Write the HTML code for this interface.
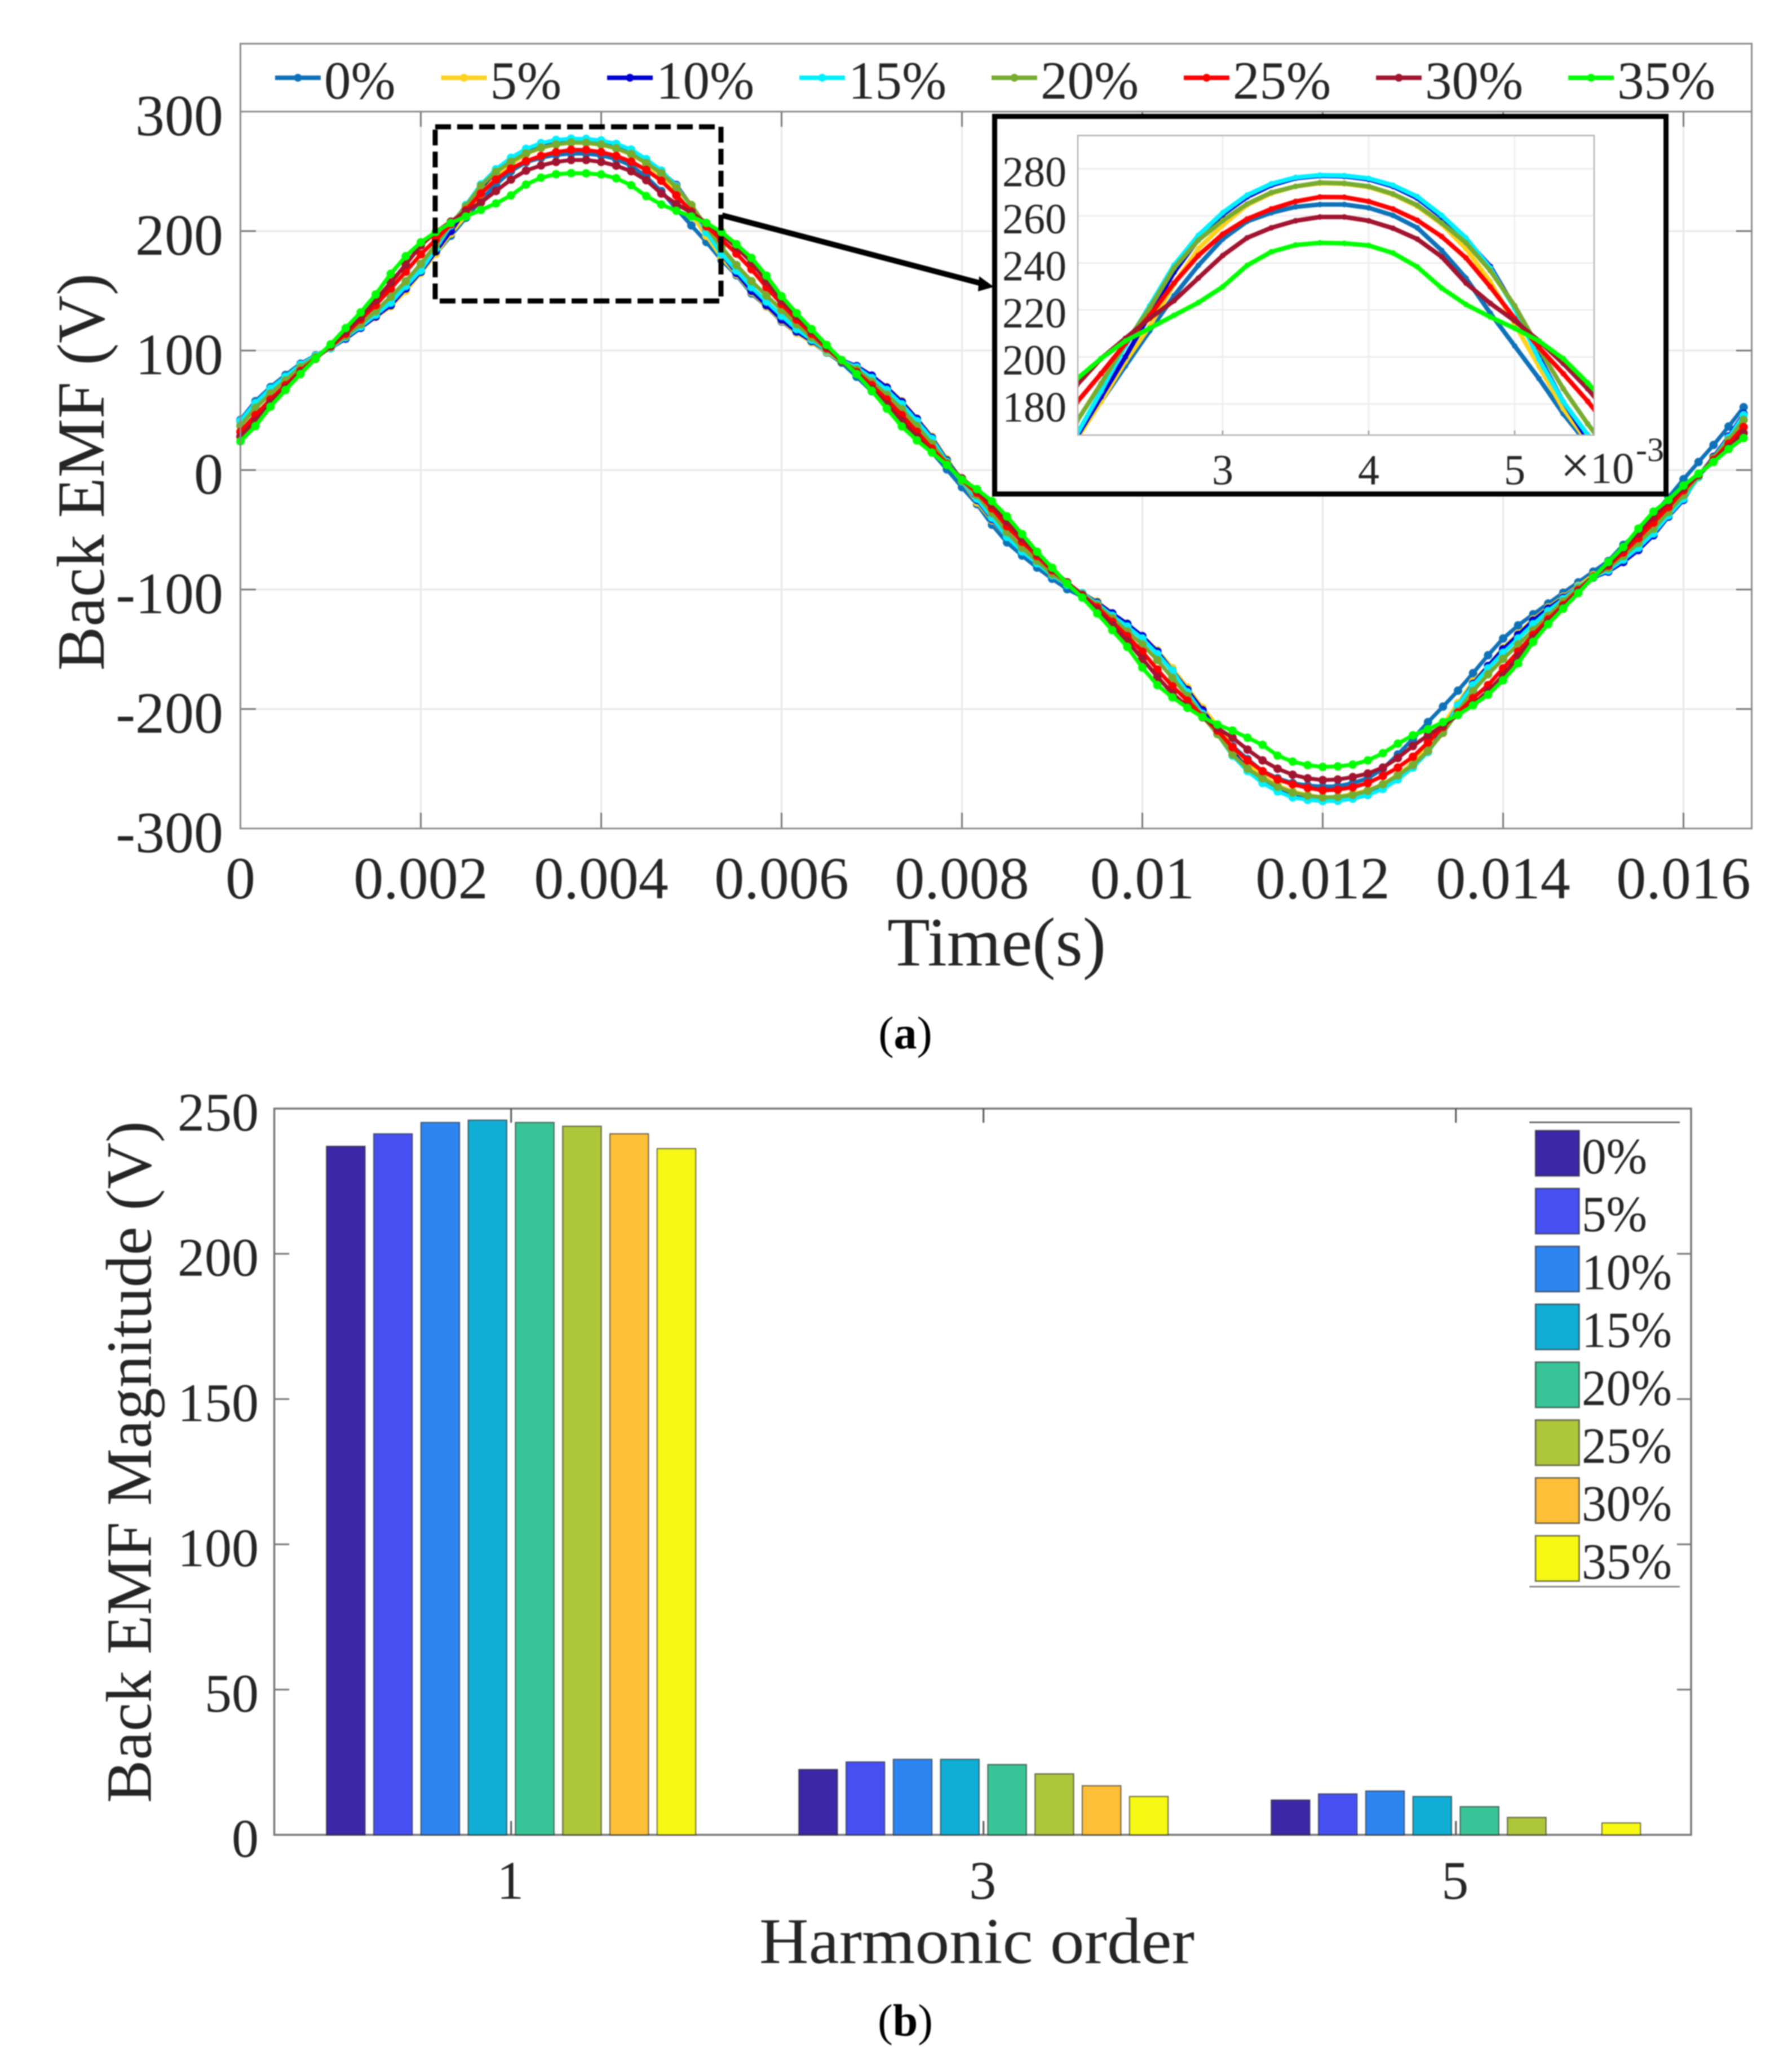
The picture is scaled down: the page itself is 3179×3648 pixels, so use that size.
<!DOCTYPE html>
<html lang="en">
<head>
<meta charset="utf-8">
<title>Back EMF waveforms and harmonics</title>
<style>
html,body{margin:0;padding:0;background:#fff;}
svg{display:block;filter:blur(1.1px);}
text{font-family:"Liberation Serif",serif;fill:#252525;}
</style>
</head>
<body>
<svg id="figure" xmlns="http://www.w3.org/2000/svg" width="3179" height="3648" viewBox="0 0 3179 3648">
  <defs>
    <clipPath id="inset-clip"><rect x="1912" y="240.5" width="916" height="531.5"/></clipPath>
  </defs>
  <rect x="0" y="0" width="3179" height="3648" fill="#ffffff"/>

  <g id="panel-a">
    <g id="a-grid"></g>
    <g id="a-series"></g>
    <g id="a-frame"></g>
    <g id="a-legend"></g>
    <g id="a-ticklabels"></g>
    <text transform="translate(184 837.5) rotate(-90)" text-anchor="middle" font-size="120" textLength="705" lengthAdjust="spacingAndGlyphs">Back EMF (V)</text>
    <text x="1768" y="1713" text-anchor="middle" font-size="123" textLength="388" lengthAdjust="spacingAndGlyphs">Time(s)</text>
    <rect x="772" y="225" width="507" height="309" fill="none" stroke="#000" stroke-width="9" stroke-dasharray="28 11"/>
    <line x1="1281" y1="382" x2="1745" y2="504" stroke="#000" stroke-width="10"/>
    <polygon points="1763,509 1737,490 1735,517" fill="#000"/>
    <g id="inset">
      <rect x="1764.5" y="206.5" width="1191" height="670" fill="#fff" stroke="#000" stroke-width="9"/>
      <g id="inset-grid"></g>
      <g id="inset-series" clip-path="url(#inset-clip)"></g>
      <g id="inset-frame"></g>
      <g id="inset-ticklabels"></g>
      <text x="2768" y="857" font-size="78"><tspan font-size="94">×</tspan>10</text>
      <text x="2902" y="818" font-size="60">-3</text>
    </g>
    <text x="1606" y="1860" text-anchor="middle" font-size="82" style="fill:#000">(<tspan font-weight="bold">a</tspan>)</text>
  </g>

  <g id="panel-b">
    <g id="b-frame"></g>
    <g id="b-bars"></g>
    <g id="b-ticklabels"></g>
    <g id="b-legend"></g>
    <text transform="translate(267.5 2594) rotate(-90)" text-anchor="middle" font-size="114" textLength="1210" lengthAdjust="spacingAndGlyphs">Back EMF Magnitude (V)</text>
    <text x="1733" y="3483" text-anchor="middle" font-size="115" textLength="772" lengthAdjust="spacingAndGlyphs">Harmonic order</text>
    <text x="1606" y="3612" text-anchor="middle" font-size="80" style="fill:#000">(<tspan font-weight="bold">b</tspan>)</text>
  </g>
</svg>

<script>
// ---------- Data: panel (a) ----------
const seriesLabels = ['0%', '5%', '10%', '15%', '20%', '25%', '30%', '35%'];
const sampleIntervalSeconds = 1 / 6000;
const xTickLabels = ['0', '0.002', '0.004', '0.006', '0.008', '0.01', '0.012', '0.014', '0.016'];
const yTickLabels = ['300', '200', '100', '0', '-100', '-200', '-300'];
const insetXTickLabels = ['3', '4', '5'];
const insetYTickLabels = ['280', '260', '240', '220', '200', '180'];

const emf0 = [42,57.7,69.4,79.6,89,96,102,111,120,129,139,
152,166,181,196.1,211.1,226,238.9,250.1,257.6,261.3,
263.8,264.8,264.8,263.4,260.2,254.9,245.3,233.5,218.6,204.7,
190.8,175.8,163,147.8,136.8,124.3,114.9,107,98.4,89.8,
78,66,56,43,29,15,0.5,-14.4,-28.6,-45.8,
-60.6,-71.6,-81.7,-91,-99.7,-106,-111.4,-120,-128.6,-139.5,
-151,-166,-183,-201,-217,-231,-242,-252,-258,-262,
-264,-265,-264.6,-262,-258,-250,-238,-225,-211,-198,
-184.6,-170,-155,-141,-130,-120.7,-111.7,-102.7,-94,-85,
-76.2,-62.7,-52,-37.5,-23,-7.7,6.7,21,36.4,52.6];

const emf5 = [40,55,67,77,87,95,102,110,119,128,137,
150,165,181,198,213,231,246,256,264.5,269.5,
272.5,273.8,273.6,272.2,269,264,256.5,246,232,214,
196,178,164,149,137,125,115,107,99,91,
86,78.8,69.4,57.7,43,28,9,-9,-27,-42,
-56,-68,-78,-88,-96,-103,-110,-120,-129,-139,
-151,-166,-182,-199,-214,-232,-246,-256,-264,-269,
-272,-274,-273.5,-271,-268,-263,-255,-245,-231,-213,
-195,-177,-164,-149,-137,-125,-115,-106,-97,-88,
-83,-76,-67,-54,-39,-24,-6,11,28,46];

const emf10 = [41,56,68,78,88,95.5,102,110,119,128.5,138,
152,166,183,200,218,236,250,260.5,268,273,
276,277,276.8,275.5,272.5,267.5,259.5,250,238.5,221,
200,181,165,150,138,126,116,108,100,92,
87,79,69,57,42.8,27,8,-9,-25,-41,
-56,-68,-78,-88,-96,-103,-111,-120,-129,-139,
-152,-168,-184,-201,-218,-236,-250,-261,-268,-273,
-276,-277,-276.8,-275,-272,-266,-258,-248,-236,-218,
-197,-179,-164,-150,-138,-126,-116,-107,-98,-90,
-85,-77,-67,-54.6,-39,-25,-5,11,28,47];

const emf15 = [41,56,68,78,88,95.5,102,111,120,130,140,
154,167,185.4,204.7,221.8,239,251.7,261.3,268.8,273.6,
276.3,277.3,277.1,275.9,273,268.2,260.2,250.6,237.8,220.7,
199,181,167,153,141,129,118,109,100,91.5,
86,77,67,55,41,26,7,-9.5,-24,-40,
-56,-68,-78,-88,-96,-103,-112,-122,-131,-141,
-154,-168,-186,-204,-221,-239,-252,-262,-269,-274,
-276,-277,-276.8,-275,-272,-267,-259,-249,-236,-219,
-197,-180,-166,-153,-141,-129,-118,-108,-98,-89.5,
-84,-75,-65,-53,-38,-24,-6,10,27,46];

const emf20 = [37,52,64,75,86,94.5,103,112,122,133,145,
158,172.5,188.7,205.7,220.7,237.8,249.6,258,265,269.9,
272.5,274.1,273.8,272.5,269.3,264.5,257,248.5,236.7,221.8,
203.6,186.5,171.6,158,146,134,122,111,101,91,
84,74,63,51,37,22,6,-9,-21,-36,
-52,-65,-76,-87,-95,-104,-113,-124,-135,-146,
-159,-174,-189,-206,-221,-238,-250,-258,-265,-270,
-272.5,-274,-273.6,-272,-268.5,-263,-255.5,-247,-235,-220,
-202,-185,-171,-158,-146,-134,-122,-110,-99,-89,
-82,-72,-61,-49,-35,-21,-5,10,25,42];

const emf25 = [32,46,59,71,83,93.5,103.5,114,126,138,152,
166,180.6,192.9,205.7,217.5,231.4,243.1,252.2,258.6,262.9,
266.1,268,267.9,266.1,262.9,258.1,251.2,242.1,229.8,216.4,
204.1,192.9,181.2,168,153,139,126,114,102,91,
82,71,59,46,32,18,5,-8,-19,-32,
-47,-60,-72,-84,-94,-104.5,-115,-127,-139,-152,
-167,-181,-193,-206,-218,-232,-243,-252,-259,-263,
-266,-268,-267.5,-265.5,-262,-256,-249,-240,-228,-215,
-203,-191,-180,-166,-152,-138,-125,-113,-100.5,-89,
-80,-69,-57,-44,-31,-17,-4,8.5,22,36];

const emf30 = [28,41,56,69,82,93,104,116,128,142,157,
172,188,199.3,207.9,216.4,223.9,233.5,243.1,250.6,254.9,
257.9,259.5,259.5,257.9,254.7,250.1,242.6,231.4,222.8,215.4,
206.8,197.2,186.5,174,158,142,129,116,103,91,
81,68,55,41,28,15,4.5,-7,-17,-29,
-43,-57,-70,-83,-94,-105,-117,-130,-143,-158,
-173,-187,-198,-207,-216,-224,-234,-243,-250,-255,
-258,-259.5,-259,-257,-254,-249,-241,-231,-222,-214,
-205,-196,-185,-172,-156,-141,-127,-114.5,-101.5,-89.5,
-79,-66,-53,-39,-27,-15,-4,7.5,19,31];

const emf35 = [24,36.8,53,67,80.4,93.3,105.2,118.8,132,147,164.3,
179,190.6,199.3,206.8,212.2,217.7,223.1,229.8,238.9,244.7,
247.6,248.5,248.3,247.4,244.2,238.3,229.3,222.3,217,212.2,
206.8,199.3,189,177.6,162.7,145.5,131.3,118,104.7,92,
80.4,66.3,51.4,36.5,24.8,14.6,4.4,-8,-16,-26,
-38.8,-53.6,-68.4,-81.7,-95,-106.7,-120,-134,-148,-165.3,
-180,-190.3,-199,-206.7,-213,-218,-224,-230,-239,-244,
-247,-248.5,-248,-246.5,-243,-237,-229,-222,-217,-211,
-205,-197,-188,-176,-161.8,-143.8,-129,-116,-103,-89.7,
-77,-64.5,-49,-34.8,-25,-13,-3,6.7,17.5,26.8];

// ---------- Data: panel (b) ----------
const harmonicOrders = [1, 3, 5];
const barTickLabels = ['250', '200', '150', '100', '50', '0'];
const magnitude1 = [237, 241.3, 245.2, 246, 245.2, 243.9, 241.3, 236.2];
const magnitude3 = [22.5, 25.1, 26, 26, 24.2, 21, 16.9, 13.2];
const magnitude5 = [12, 14.1, 15.1, 13.2, 9.7, 6, 0, 4.1];

// ---------- Styles ----------
const allEmf = [emf0, emf5, emf10, emf15, emf20, emf25, emf30, emf35];
const lineColors = ['#0f72b8', '#ffd21e', '#0000d2', '#00f0ff', '#77ac30', '#ff0000', '#a2142f', '#00ff00'];
const barColors = ['#3c27a6', '#4650f2', '#2d85f1', '#10aed5', '#38c496', '#adc63a', '#fdbf38', '#f7f914'];
const allMagnitudes = [magnitude1, magnitude3, magnitude5];

// ---------- Axis functions ----------
const xMain = t => 426.5 + (t / 0.002) * 320;
const yMain = v => 834 - v * 2.12;
const xInset = t => 2169 + ((t - 0.003) / 0.001) * 259;
const yInset = v => 299.4 + (280 - v) * 4.175;
const xHarmonic = h => 906.7 + ((h - 1) / 2) * 838;
const yBar = v => 3255.6 - v * 5.155;
const BAR_PITCH = 83.8;
const BAR_WIDTH = 68.5;

const NS = 'http://www.w3.org/2000/svg';
function add(parent, tag, attrs, txt) {
  const el = document.createElementNS(NS, tag);
  for (const k in attrs) el.setAttribute(k, attrs[k]);
  if (txt !== undefined) el.textContent = txt;
  parent.appendChild(el);
  return el;
}
const $ = id => document.getElementById(id);

// ---------- Panel (a): grid, ticks, frame ----------
xTickLabels.forEach(label => {
  const x = xMain(parseFloat(label));
  if (parseFloat(label) > 0) {
    const g = add($('a-grid'), 'line', {x1: x, x2: x, y1: 198, y2: 1470, stroke: '#e9e9e9', 'stroke-width': 3});
    
    
    const b = add($('a-frame'), 'line', {x1: x, x2: x, y1: 1470, y2: 1442, stroke: '#777', 'stroke-width': 3});
    
    
    const tp = add($('a-frame'), 'line', {x1: x, x2: x, y1: 198, y2: 225, stroke: '#777', 'stroke-width': 3});
    
    
  }
  const t = add($('a-ticklabels'), 'text', {x: x, y: 1594, 'text-anchor': 'middle', 'font-size': 106}, label);
  
  
});
yTickLabels.forEach(label => {
  const v = parseFloat(label);
  const y = yMain(v);
  if (Math.abs(v) < 300) {
    const g = add($('a-grid'), 'line', {x1: 426.5, x2: 3107.5, y1: y, y2: y, stroke: '#e9e9e9', 'stroke-width': 3});
    
    
    const l = add($('a-frame'), 'line', {x1: 426.5, x2: 454, y1: y, y2: y, stroke: '#777', 'stroke-width': 3});
    
    
    const r = add($('a-frame'), 'line', {x1: 3107.5, x2: 3080, y1: y, y2: y, stroke: '#777', 'stroke-width': 3});
    
    
  }
  const t = add($('a-ticklabels'), 'text', {x: 396, y: y + 42, 'text-anchor': 'end', 'font-size': 104}, label);
  
  
});
const aBox = add($('a-frame'), 'rect', {x: 426.5, y: 77.5, width: 2681, height: 1392.5, fill: 'none', stroke: '#8c8c8c', 'stroke-width': 3});


const aDivider = add($('a-frame'), 'line', {x1: 426.5, x2: 3107.5, y1: 198, y2: 198, stroke: '#8c8c8c', 'stroke-width': 3});



// ---------- Series drawing ----------
function drawSeries(parent, xf, yf, lineW, markerR, prefix) {
  allEmf.forEach((values, s) => {
    const group = add(parent, 'g', {});
    
    
    const pts = values.map((v, i) => xf(i * sampleIntervalSeconds).toFixed(1) + ',' + yf(v).toFixed(1)).join(' ');
    const line = add(group, 'polyline', {points: pts, fill: 'none', stroke: lineColors[s], 'stroke-width': lineW, 'stroke-linejoin': 'round'});
    
    
    values.forEach((v, i) => {
      const c = add(group, 'circle', {cx: xf(i * sampleIntervalSeconds).toFixed(1), cy: yf(v).toFixed(1), r: markerR, fill: lineColors[s]});
      
      
    });
  });
}
drawSeries($('a-series'), xMain, yMain, 7, 7.5, 'main');
drawSeries($('inset-series'), xInset, yInset, 8, 5, 'inset');

// ---------- Panel (a) legend ----------
let legendCursor = 488;
seriesLabels.forEach((label, s) => {
  const entry = add($('a-legend'), 'g', {});
  
  
  const sample = add(entry, 'line', {x1: legendCursor, x2: legendCursor + 81, y1: 138, y2: 138, stroke: lineColors[s], 'stroke-width': 8});
  
  
  const dot = add(entry, 'circle', {cx: legendCursor + 40.5, cy: 138, r: 7, fill: lineColors[s]});
  
  
  const t = add(entry, 'text', {x: legendCursor + 87, y: 175, 'font-size': 95}, label);
  
  
  legendCursor += label.length === 2 ? 294.5 : 341;
});

// ---------- Inset axes ----------
insetXTickLabels.forEach(label => {
  const v = parseFloat(label) / 1000;
  const x = xInset(v);
  const g = add($('inset-grid'), 'line', {x1: x, x2: x, y1: 240.5, y2: 772, stroke: '#ececec', 'stroke-width': 2.5});
  
  
  const tk = add($('inset-frame'), 'line', {x1: x, x2: x, y1: 772, y2: 764, stroke: '#999', 'stroke-width': 2.5});
  
  
  const t = add($('inset-ticklabels'), 'text', {x: x, y: 859.6, 'text-anchor': 'middle', 'font-size': 76}, label);
  
  
});
insetYTickLabels.forEach(label => {
  const y = yInset(parseFloat(label));
  const g = add($('inset-grid'), 'line', {x1: 1912, x2: 2828, y1: y, y2: y, stroke: '#ececec', 'stroke-width': 2.5});
  
  
  const t = add($('inset-ticklabels'), 'text', {x: 1892, y: y + 31, 'text-anchor': 'end', 'font-size': 76}, label);
  
  
});
const iBox = add($('inset-frame'), 'rect', {x: 1912, y: 240.5, width: 916, height: 531.5, fill: 'none', stroke: '#b5b5b5', 'stroke-width': 2.5});



// ---------- Panel (b) ----------
barTickLabels.forEach(label => {
  const y = yBar(parseFloat(label));
  if (parseFloat(label) > 0 && parseFloat(label) < 250) {
    const l = add($('b-frame'), 'line', {x1: 486.6, x2: 513, y1: y, y2: y, stroke: '#777', 'stroke-width': 3});
    
    
    const r = add($('b-frame'), 'line', {x1: 3000, x2: 2975, y1: y, y2: y, stroke: '#777', 'stroke-width': 3});
    
    
  }
  const t = add($('b-ticklabels'), 'text', {x: 459, y: y + 39, 'text-anchor': 'end', 'font-size': 96}, label);
  
  
});
const bBox = add($('b-frame'), 'rect', {x: 486.6, y: 1967, width: 2513.4, height: 1288.6, fill: 'none', stroke: '#777', 'stroke-width': 3.5});


harmonicOrders.forEach((h, g) => {
  const xc = xHarmonic(h);
  const tkT = add($('b-frame'), 'line', {x1: xc, x2: xc, y1: 1967, y2: 1992, stroke: '#555', 'stroke-width': 3});
  
  
  const tkB = add($('b-frame'), 'line', {x1: xc, x2: xc, y1: 3255.6, y2: 3231, stroke: '#555', 'stroke-width': 3});
  
  
  const t = add($('b-ticklabels'), 'text', {x: xc - 1.5, y: 3369, 'text-anchor': 'middle', 'font-size': 96}, String(h));
  
  
  allMagnitudes[g].forEach((v, s) => {
    if (v <= 0) return;
    const bar = add($('b-bars'), 'rect', {
      x: xc + (s - 3.5) * BAR_PITCH - BAR_WIDTH / 2,
      y: yBar(v),
      width: BAR_WIDTH,
      height: yBar(0) - yBar(v),
      fill: barColors[s],
      stroke: '#222',
      'stroke-opacity': 0.65,
      'stroke-width': 2
    });
    
    
  });
});

// ---------- Panel (b) legend ----------
const legTop = add($('b-legend'), 'line', {x1: 2713, x2: 2980, y1: 1991.4, y2: 1991.4, stroke: '#555', 'stroke-width': 2.5});


const legBot = add($('b-legend'), 'line', {x1: 2713, x2: 2980, y1: 2815.3, y2: 2815.3, stroke: '#777', 'stroke-width': 2.5});


seriesLabels.forEach((label, s) => {
  const entry = add($('b-legend'), 'g', {});
  
  
  const swatch = add(entry, 'rect', {x: 2724, y: 2006 + s * 102.7, width: 77.5, height: 80.5, fill: barColors[s], stroke: '#222', 'stroke-opacity': 0.65, 'stroke-width': 2.5});
  
  
  const t = add(entry, 'text', {x: 2806, y: 2082 + s * 102.7, 'font-size': 90, textLength: label.length === 2 ? 116 : 160, lengthAdjust: 'spacingAndGlyphs'}, label);
  
  
});
</script>
</body>
</html>
